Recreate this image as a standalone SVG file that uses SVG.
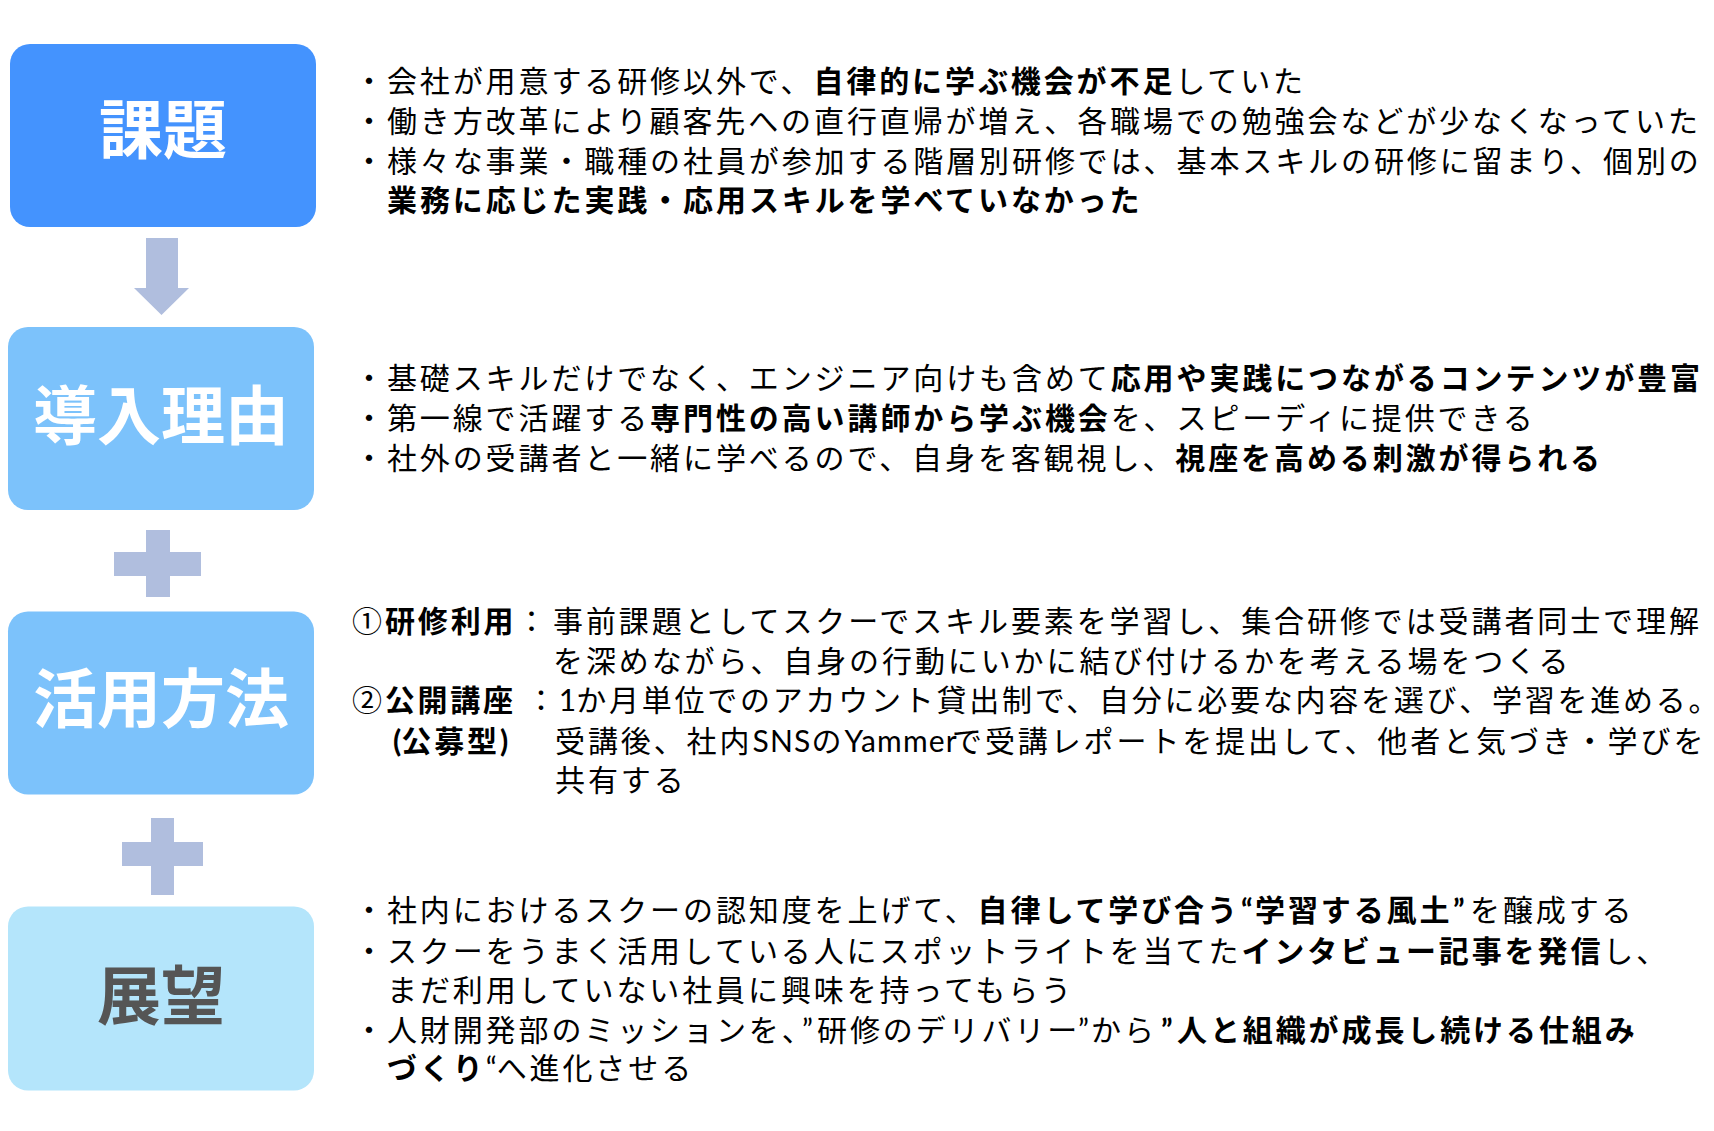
<svg xmlns="http://www.w3.org/2000/svg" width="1714" height="1131" viewBox="0 0 1714 1131">
<style>
.t{font-family:"Noto Sans CJK JP","Noto Sans CJK SC",sans-serif;font-size:30px;letter-spacing:2.9px;fill:#000}
.b{font-weight:700}
.lat{font-family:Lato,"Liberation Sans","Noto Sans CJK JP",sans-serif;letter-spacing:0}
.lat2{font-family:Lato,"Liberation Sans","Noto Sans CJK JP",sans-serif;letter-spacing:1.2px}
.lbl{font-family:"Noto Sans CJK JP","Noto Sans CJK SC",sans-serif;font-size:64px;font-weight:700;fill:#fff;text-anchor:middle}
.conn{fill:#B0BEDE}
</style>
<rect width="1714" height="1131" fill="#fff"/>
<g id="connectors">
  <path class="conn" d="M146,238 H178 V288 H189 L161.5,315 L134,288 H146 Z"/>
  <path class="conn" d="M146,530 H170 V552 H201 V576 H170 V597 H146 V576 H114 V552 H146 Z"/>
  <path class="conn" d="M151,818 H174 V842 H203 V866 H174 V895 H151 V866 H122 V842 H151 Z"/>
</g>
<g id="node-kadai">
  <rect x="10" y="44" width="306" height="183" rx="20" fill="#4493FE"/>
  <text class="lbl" x="163" y="153">課題</text>
  <text class="t" x="354" y="92">・会社が用意する研修以外で、<tspan class="b">自律的に学ぶ機会が不足</tspan>していた</text>
  <text class="t" x="354" y="132">・働き方改革により顧客先への直行直帰が増え、各職場での勉強会などが少なくなっていた</text>
  <text class="t" x="354" y="172">・様々な事業・職種の社員が参加する階層別研修では、基本スキルの研修に留まり、個別の</text>
  <text class="t b" x="387" y="211">業務に応じた実践・応用スキルを学べていなかった</text>
</g>
<g id="node-riyu">
  <rect x="8" y="327" width="306" height="183" rx="20" fill="#7CC2FB"/>
  <text class="lbl" x="161" y="439">導入理由</text>
  <text class="t" x="354" y="389">・基礎スキルだけでなく、エンジニア向けも含めて<tspan class="b">応用や実践につながるコンテンツが豊富</tspan></text>
  <text class="t" x="354" y="429">・第一線で活躍する<tspan class="b">専門性の高い講師から学ぶ機会</tspan>を、スピーディに提供できる</text>
  <text class="t" x="354" y="469">・社外の受講者と一緒に学べるので、自身を客観視し、<tspan class="b">視座を高める刺激が得られる</tspan></text>
</g>
<g id="node-katsuyo">
  <rect x="8" y="611.5" width="306" height="183" rx="20" fill="#7CC2FB"/>
  <text class="lbl" x="161" y="721.5">活用方法</text>
  <text class="t" x="352" y="631.5">①<tspan class="b">研修利用</tspan>：<tspan x="553">事前課題としてスクーでスキル要素を学習し、集合研修では受講者同士で理解</tspan></text>
  <text class="t" x="553" y="671.5">を深めながら、自身の行動にいかに結び付けるかを考える場をつくる</text>
  <text class="t" x="352" y="710.5" style="letter-spacing:2.75px">②<tspan class="b">公開講座</tspan><tspan x="526">：</tspan><tspan class="lat">1</tspan>か月単位でのアカウント貸出制で、自分に必要な内容を選び、学習を進める。</text>
  <text class="t b" x="393" y="751.5"><tspan class="lat">(</tspan>公募型<tspan class="lat">)</tspan></text>
  <text class="t" x="555" y="751.5">受講後、社内<tspan class="lat2">SNS</tspan>の<tspan class="lat2">Yammer</tspan><tspan x="952">で受講レポートを提出して、他者と気づき・学びを</tspan></text>
  <text class="t" x="555" y="790.5">共有する</text>
</g>
<g id="node-tenbo">
  <rect x="8" y="906.5" width="306" height="184" rx="20" fill="#B4E5FB"/>
  <text class="lbl" x="161" y="1018.5" style="fill:#555">展望</text>
  <text class="t" x="354" y="920.5">・社内におけるスクーの認知度を上げて、<tspan class="b">自律して学び合う</tspan><tspan class="b lat" x="1241">“</tspan><tspan class="b" x="1255">学習する風土</tspan><tspan class="b lat" x="1453">”</tspan><tspan x="1470">を醸成する</tspan></text>
  <text class="t" x="354" y="961.5">・スクーをうまく活用している人にスポットライトを当てた<tspan class="b">インタビュー記事を発信</tspan>し、</text>
  <text class="t" x="387" y="1000.5">まだ利用していない社員に興味を持ってもらう</text>
  <text class="t" x="354" y="1040.5">・人財開発部のミッションを、<tspan class="lat" x="802">”</tspan><tspan x="817">研修のデリバリー</tspan><tspan class="lat" x="1078">”</tspan><tspan x="1091">から</tspan><tspan class="lat b" x="1161">”</tspan><tspan class="b" x="1177">人と組織が成長し続ける仕組み</tspan></text>
  <text class="t" x="387" y="1078.5"><tspan class="b">づくり</tspan><tspan class="lat">“</tspan>へ進化させる</text>
</g>
</svg>
